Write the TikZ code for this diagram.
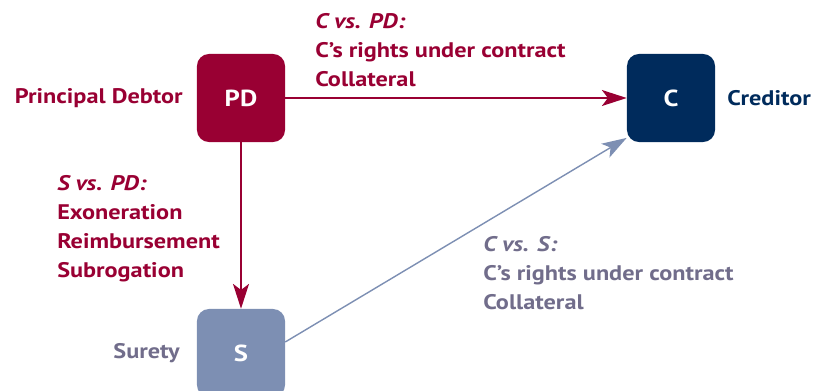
\documentclass[tikz,border=0pt]{standalone}
\usepackage{fontspec}
\setmainfont[FakeStretch=1.15]{PT Sans}
\usetikzlibrary{arrows.meta}
\definecolor{debtor}{HTML}{990033}
\definecolor{creditor}{HTML}{002B5C}
\definecolor{surety}{HTML}{7D8FB3}
\definecolor{suretytext}{HTML}{716D8B}
\tikzset{
  party/.style={rounded corners=0.3cm, minimum size=2.2cm, inner sep=0pt,
    text=white, font=\bfseries\fontsize{16.5}{20}\selectfont},
  tag/.style={inner sep=0pt, font=\bfseries\fontsize{15}{20.6}\selectfont},
  notes/.style={tag, align=left, anchor=north west},
  link/.style={line width=1pt, -{Stealth[length=0.62cm, width=0.4cm, inset=0.15cm]}}
}
\begin{document}
\begin{tikzpicture}[x=0.025cm, y=-0.025cm]
  \useasboundingbox (0,0) rectangle (814,390);
  % the three parties
  \node[party, fill=debtor] (PD) at (241,98) {PD};
  \node[party, fill=creditor] (C) at (671,98) {C};
  \node[party, fill=surety] (S) at (241,353) {S};
  \node[tag, debtor, anchor=east] (PDname) at (183,98) {Principal Debtor};
  \node[tag, creditor, anchor=west] (Cname) at (727,98) {Creditor};
  \node[tag, suretytext, anchor=east] (Sname) at (180,353) {Surety};
  % claims between them
  \draw[link, debtor] (PD) -- (C);
  \draw[link, debtor] (PD) -- (S);
  \draw[link, surety] (S.14) -- (C.222);
  \node[notes, debtor] (CvPD) at (315,13)
    {\textit{C vs. PD:}\\C’s rights under contract\\Collateral};
  \node[notes, debtor] (SvPD) at (57,175)
    {\textit{S vs. PD:}\\Exoneration\\Reimbursement\\Subrogation};
  \node[notes, suretytext] (CvS) at (483,236)
    {\textit{C vs. S:}\\C’s rights under contract\\Collateral};
\end{tikzpicture}
\end{document}
